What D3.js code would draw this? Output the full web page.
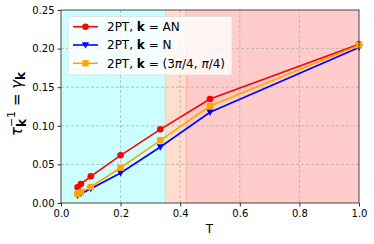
<!DOCTYPE html>
<html><head><meta charset="utf-8">
<script src="https://cdn.jsdelivr.net/npm/d3@7"></script>
<style>body{margin:0;background:#fff}svg{display:block;font-family:"DejaVu Sans",sans-serif}</style>
</head><body><svg id="c" width="374" height="244"></svg>
<script>
const T = [1/18, 1/15, 0.1, 0.2, 1/3, 0.5, 1.0];
const gammaAN = [0.0203, 0.0246, 0.0345, 0.0618, 0.0954, 0.1347, 0.2055];
const gammaN = [0.0098, 0.0120, 0.0185, 0.0389, 0.0725, 0.1175, 0.2015];
const gammaD = [0.0118, 0.0140, 0.0207, 0.0457, 0.0812, 0.1256, 0.2043];
const xTicks = [0.0, 0.2, 0.4, 0.6, 0.8, 1.0];
const yTicks = [0.00, 0.05, 0.10, 0.15, 0.20, 0.25];
const regions = [[0, 0.35, "#ccffff"], [0.35, 0.42, "#ffdfcc"], [0.42, 1.0, "#ffcccc"]];

const svg = d3.select("#c");
const x = d3.scaleLinear().domain([0, 1]).range([61, 359]);
const y = d3.scaleLinear().domain([0, 0.25]).range([203, 10]);

svg.selectAll("rect.reg").data(regions).join("rect")
  .attr("x", d => x(d[0])).attr("width", d => x(d[1]) - x(d[0]))
  .attr("y", y(0.25)).attr("height", y(0) - y(0.25)).attr("fill", d => d[2]);
svg.append("line").attr("x1", x(0.35)).attr("x2", x(0.35)).attr("y1", y(0)).attr("y2", y(0.25)).attr("stroke", "#a8e6dc").attr("stroke-width", 1);
svg.append("line").attr("x1", x(0.42)).attr("x2", x(0.42)).attr("y1", y(0)).attr("y2", y(0.25)).attr("stroke", "#ffaaa0").attr("stroke-width", 1);

// grid
svg.append("g").selectAll("line").data(xTicks.slice(1, -1)).join("line")
  .attr("x1", d => x(d)).attr("x2", d => x(d)).attr("y1", y(0)).attr("y2", y(0.25))
  .attr("stroke", "#b0b0b0").attr("stroke-dasharray", "3,2").attr("stroke-width", 0.8);
svg.append("g").selectAll("line").data(yTicks.slice(1, -1)).join("line")
  .attr("y1", d => y(d)).attr("y2", d => y(d)).attr("x1", x(0)).attr("x2", x(1))
  .attr("stroke", "#b0b0b0").attr("stroke-dasharray", "3,2").attr("stroke-width", 0.8);

const series = [
  {v: gammaAN, c: "#ff0000", m: "circle"},
  {v: gammaN, c: "#0000ff", m: "tri"},
  {v: gammaD, c: "#ffa500", m: "square"}
];
const line = d3.line().x((d, i) => x(T[i])).y(d => y(d));
function marker(g, m, c, px, py) {
  if (m === "circle") g.append("circle").attr("cx", px).attr("cy", py).attr("r", 3.3).attr("fill", c);
  else if (m === "square") g.append("rect").attr("x", px - 3.2).attr("y", py - 3.2).attr("width", 6.4).attr("height", 6.4).attr("fill", c);
  else g.append("path").attr("d", `M${px - 3.6},${py - 2.8}L${px + 3.6},${py - 2.8}L${px},${py + 3.6}Z`).attr("fill", c);
}
series.forEach(s => {
  svg.append("path").datum(s.v).attr("d", line).attr("fill", "none").attr("stroke", s.c).attr("stroke-width", 1.6);
  const g = svg.append("g");
  s.v.forEach((d, i) => marker(g, s.m, s.c, x(T[i]), y(d)));
});

// axes
const xa = svg.append("g").attr("transform", `translate(0,${y(0)})`)
  .call(d3.axisBottom(x).tickValues(xTicks).tickFormat(d3.format(".1f")).tickSize(3.5).tickPadding(3));
const ya = svg.append("g").attr("transform", `translate(${x(0)},0)`)
  .call(d3.axisLeft(y).tickValues(yTicks).tickFormat(d3.format(".2f")).tickSize(3.5).tickPadding(3));
[xa, ya].forEach(a => {
  a.select(".domain").remove();
  a.selectAll("text").attr("font-size", 10).attr("fill", "#000").attr("font-family", "DejaVu Sans");
  a.selectAll("line").attr("stroke", "#333");
});
svg.append("rect").attr("x", x(0)).attr("y", y(0.25)).attr("width", x(1) - x(0)).attr("height", y(0) - y(0.25))
  .attr("fill", "none").attr("stroke", "#333").attr("stroke-width", 0.9);

svg.append("text").attr("x", 209.5).attr("y", 233).attr("text-anchor", "middle").attr("font-size", 12).text("T");

// y label
const yl = svg.append("text").attr("transform", "translate(22,104) rotate(-90)").attr("text-anchor", "middle").attr("font-size", 15);
yl.append("tspan").attr("font-style", "italic").text("τ");
yl.append("tspan").attr("font-weight", "bold").attr("font-size", 12).attr("dy", 3.5).text("k");
yl.append("tspan").attr("font-size", 11).attr("dy", -11).attr("dx", -8).text("−1");
yl.append("tspan").attr("dy", 7.5).text(" = ");
yl.append("tspan").attr("font-style", "italic").text("γ");
yl.append("tspan").attr("font-weight", "bold").attr("font-size", 12).attr("dy", 3).text("k");

// legend
const lg = svg.append("g");
lg.append("rect").attr("x", 68).attr("y", 16.5).attr("width", 164).attr("height", 58.5).attr("rx", 2.5)
  .attr("fill", "#fff").attr("fill-opacity", 0.8).attr("stroke", "#ddd").attr("stroke-width", 0.8);
const labels = [["AN"], ["N"], ["(3", "π", "/4, ", "π", "/4)"]];
series.forEach((s, i) => {
  const ry = 26.7 + i * 18.3;
  lg.append("line").attr("x1", 73).attr("x2", 98).attr("y1", ry).attr("y2", ry).attr("stroke", s.c).attr("stroke-width", 1.6);
  marker(lg, s.m, s.c, 85.5, ry);
  const t = lg.append("text").attr("x", 107).attr("y", ry + 4.3).attr("font-size", 12);
  t.append("tspan").text("2PT, ");
  t.append("tspan").attr("font-weight", "bold").text("k");
  t.append("tspan").text(" = ");
  labels[i].forEach(p => {
    const sp = t.append("tspan").text(p);
    if (p === "π") sp.attr("font-style", "italic");
  });
});
</script></body></html>
